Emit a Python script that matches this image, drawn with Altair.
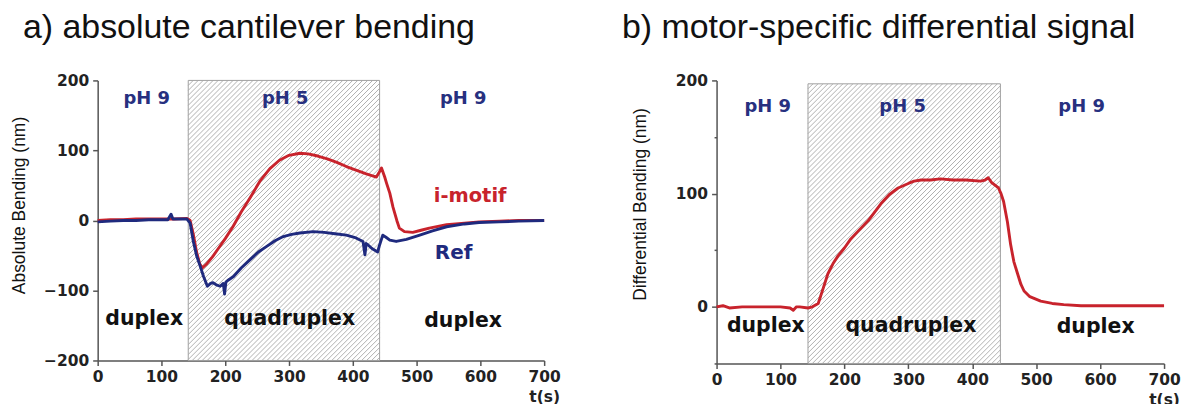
import altair as alt
import pandas as pd

# ---------------- data ----------------
# panel a: i-motif (red)
imotif_t = [0, 20, 40, 60, 80, 100, 120, 140, 145, 150, 155, 160, 164, 170, 180, 190, 200, 212, 225, 240,
            255, 270, 285, 300, 317, 330, 345, 360, 375, 390, 405, 420, 437, 441, 445, 450, 453, 458, 463,
            469, 473, 481, 494, 507, 520, 547, 575, 598, 630, 660, 700]
imotif_v = [0, 1, 1, 2, 2, 2, 2, 3, 0, -20, -45, -62, -68, -63, -52, -39, -26, -9, 12, 34,
            57, 74, 86, 93, 96, 95, 92, 88, 83, 77, 72, 67, 62, 68, 75, 62, 53, 39, 19,
            0, -11, -16, -17, -14, -11, -6, -4, -2, -1, 0, 0]

# panel a: Ref (blue)
ref_t = [0, 20, 40, 60, 80, 100, 110, 115, 118, 125, 140, 145, 150, 155, 161, 166, 172, 177, 181, 186,
         192, 197, 199, 201, 205, 213, 225, 239, 252, 265, 278, 291, 304, 317, 338, 355, 372, 390, 405,
         416, 419, 421, 424, 430, 439, 442, 447, 452, 458, 468, 484, 505, 525, 547, 575, 598, 630, 660, 700]
ref_v = [-2, -1, 0, 0, 1, 1, 1, 9, 2, 2, 2, -4, -30, -50, -66, -80, -94, -90, -89, -92,
         -94, -90, -105, -88, -85, -80, -68, -56, -45, -37, -29, -23, -20, -18, -16, -17, -19, -21, -25,
         -30, -49, -33, -35, -40, -45, -35, -21, -24, -28, -30, -27, -21, -15, -9, -5, -3, -2, -1, 0]

# panel b: differential signal (red)
diff_t = [0, 10, 20, 40, 60, 80, 100, 115, 120, 125, 130, 143, 150, 159, 166, 174, 182, 190, 200, 210,
          220, 237, 257, 270, 284, 300, 309, 320, 335, 350, 370, 390, 413, 420, 425, 430, 441, 445, 449,
          455, 460, 465, 471, 476, 481, 490, 507, 525, 543, 570, 595, 620, 650, 680, 700]
diff_v = [0, 1, -1, 0, 0, 0, 0, -1, -3, 0, 0, -1, 0, 3, 15, 29, 38, 45, 52, 60,
          66, 76, 91, 99, 105, 109, 111, 112, 112, 113, 112, 112, 111, 112, 114, 110, 105, 100, 93,
          75, 55, 40, 29, 20, 14, 9, 5, 3, 2, 1, 1, 1, 1, 1, 1]

# shaded pH 5 windows
shade_a = [142, 442]
shade_b = [143, 444]

# annotation labels
labels_a_text = ["pH 9", "pH 5", "pH 9", "duplex", "quadruplex", "duplex", "i-motif", "Ref"]
labels_a_t = [77, 294, 573, 73, 301, 573, 584, 558]
labels_a_v = [167, 167, 167, -150, -150, -152, 26, -55]
labels_a_kind = ["ph", "ph", "ph", "state", "state", "state", "red", "blue"]

labels_b_text = ["pH 9", "pH 5", "pH 9", "duplex", "quadruplex", "duplex"]
labels_b_t = [80, 291, 571, 77, 304, 593]
labels_b_v = [172, 172, 172, -22, -22, -23]
labels_b_kind = ["ph", "ph", "ph", "state", "state", "state"]

RED = "#c8232c"
BLUE = "#1f2a7e"
NAVY = "#27307f"
kind_color = {"ph": NAVY, "state": "#111111", "red": RED, "blue": BLUE}
kind_size = {"ph": 18, "state": 20.5, "red": 19.5, "blue": 20}


def hatch(x0, x1, y0, y1, sx, sy, step):
    """Diagonal hatch segments clipped to the shaded window (data units)."""
    W = (x1 - x0) * sx
    H = (y1 - y0) * sy
    rows = []
    c = -H
    while c < W:
        u1 = max(c, 0.0)
        v1 = u1 - c
        u2 = min(W, H + c)
        v2 = u2 - c
        rows.append(dict(x=x0 + u1 / sx, y=y0 + v1 / sy, x2=x0 + u2 / sx, y2=y0 + v2 / sy))
        c += step
    return pd.DataFrame(rows)


tick_cond = {"condition": {"test": "datum.value % 100 == 0", "value": 5}, "value": 2.5}
label_expr = "datum.value % 100 == 0 ? datum.label : ''"


def x_axis(W, ty):
    return alt.Axis(values=list(range(0, 701, 50)), labelExpr=label_expr, tickSize=tick_cond,
                    title="t(s)", titleX=W, titleY=ty, titleBaseline="top", titleAlign="center",
                    titleFont="DejaVu Sans", titleFontWeight="bold", titleFontSize=15.5, titleColor="#222",
                    labelFont="DejaVu Sans", labelFontWeight="bold", labelFontSize=15.5, labelColor="#222",
                    labelPadding=4, labelOverlap=False, labelFlush=False,
                    domainColor="#555", tickColor="#555", domainWidth=1.5, tickWidth=1.5, grid=False)


def y_axis(vals, title, tx, ty):
    return alt.Axis(values=vals, labelExpr=label_expr, tickSize=tick_cond,
                    title=title, titleX=tx, titleY=ty, titleAngle=270, titleBaseline="middle",
                    titleAlign="center", titleFont="Liberation Sans", titleFontWeight="normal",
                    titleFontSize=17.5, titleColor="#111",
                    labelFont="DejaVu Sans", labelFontWeight="bold", labelFontSize=15.5, labelColor="#222",
                    labelPadding=4, labelOverlap=False,
                    domainColor="#555", tickColor="#555", domainWidth=1.5, tickWidth=1.5, grid=False)


def panel(series, shade, ydom, yvals, ytitle, labels, W, H, title, title_dx, tx, ty):
    xs = alt.Scale(domain=[0, 700], nice=False, zero=False)
    ys = alt.Scale(domain=ydom, nice=False, zero=False)
    sx = W / 700.0
    sy = H / float(ydom[1] - ydom[0])
    ytop = ydom[1] if ydom[0] == -200 else 197
    reg = pd.DataFrame({"x": [shade[0]], "x2": [shade[1]], "y": [ydom[0]], "y2": [ytop]})
    hat = hatch(shade[0], shade[1], ydom[0], ytop, sx, sy, 5.0)

    base_rect = alt.Chart(reg).mark_rect(fill="white", stroke=None).encode(
        x=alt.X("x:Q", scale=xs, axis=x_axis(W, 29)), x2="x2:Q",
        y=alt.Y("y:Q", scale=ys, axis=y_axis(yvals, ytitle, tx, ty)), y2="y2:Q")
    hatch_rules = alt.Chart(hat).mark_rule(color="#a8a8a8", strokeWidth=0.9).encode(
        x="x:Q", y="y:Q", x2="x2:Q", y2="y2:Q")
    border = alt.Chart(reg).mark_rect(fill=None, stroke="#a0a0a0", strokeWidth=1).encode(
        x="x:Q", x2="x2:Q", y="y:Q", y2="y2:Q")

    layers = [base_rect, hatch_rules, border]
    for t, v, col in series:
        df = pd.DataFrame({"t": t, "v": v})
        layers.append(alt.Chart(df).mark_line(color=col, strokeWidth=2.9, strokeJoin="round").encode(
            x="t:Q", y="v:Q"))

    txt, tt, vv, kk = labels
    ldf = pd.DataFrame({"text": txt, "t": tt, "v": vv,
                        "c": [kind_color[k] for k in kk], "s": [kind_size[k] for k in kk]})
    layers.append(alt.Chart(ldf).mark_text(font="DejaVu Sans", fontWeight="bold", align="center",
                                           baseline="alphabetic").encode(
        x="t:Q", y="v:Q", text="text:N",
        color=alt.Color("c:N", scale=None), size=alt.Size("s:Q", scale=None)))

    return alt.layer(*layers).properties(
        width=W, height=H,
        title=alt.TitleParams(title, anchor="start", frame="group", dx=title_dx, fontSize=34,
                              font="Liberation Sans", fontWeight="normal", color="#111", offset=29))


pa = panel([(imotif_t, imotif_v, RED), (ref_t, ref_v, BLUE)], shade_a, [-200, 200],
           [-200, -150, -100, -50, 0, 50, 100, 150, 200], "Absolute Bending (nm)",
           (labels_a_text, labels_a_t, labels_a_v, labels_a_kind), 448, 281,
           "a) absolute cantilever bending", -75, -78, 125)
pb = panel([(diff_t, diff_v, RED)], shade_b, [-50, 200],
           [-50, 0, 50, 100, 150, 200], "Differential Bending (nm)",
           (labels_b_text, labels_b_t, labels_b_v, labels_b_kind), 449, 284,
           "b) motor-specific differential signal", -95, -76, 124)

chart = alt.hconcat(pa, pb, spacing=61).properties(
    padding={"left": 11, "top": 10, "right": 0, "bottom": 0},
    background="white",
).configure_view(stroke=None)

chart.save("out.html", embed_options={"renderer": "svg", "actions": False})
